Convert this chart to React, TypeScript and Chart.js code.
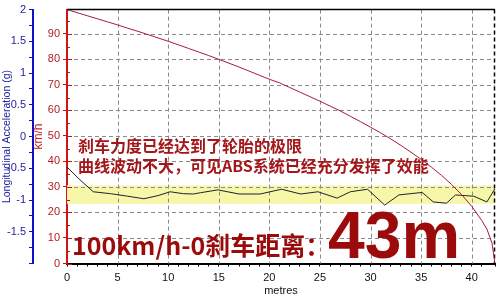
import { useEffect, useRef } from "react";
import { Chart, registerables } from "chart.js";

Chart.register(...registerables);

// ---- data ----
const speedDistance = [0, 1, 2, 3, 4, 5, 6, 7, 8, 9, 10, 11, 12, 13, 14, 15, 16, 17, 18, 19, 20, 21, 22, 23, 24, 25, 26, 27, 28, 29, 30, 31, 32, 33, 34, 35, 36, 37, 38, 39, 40, 41, 41.5, 42, 42.3];
const speedValues = [99.5, 98.3, 97.1, 95.9, 94.7, 93.5, 92.2, 91.0, 89.7, 88.4, 87.1, 85.7, 84.3, 82.9, 81.5, 80.0, 78.5, 77.0, 75.4, 73.8, 72.2, 70.8, 69.0, 67.2, 65.4, 63.6, 61.7, 59.8, 57.7, 55.6, 53.4, 51.2, 48.8, 46.3, 43.6, 40.8, 37.8, 34.6, 31.0, 27.0, 22.4, 16.8, 13.5, 8.0, 0];

const accelDistance = [0, 1.2, 2.6, 4.3, 6.0, 7.6, 9.0, 10.2, 11.5, 12.5, 13.2, 14.9, 17.0, 19.1, 21.2, 23.1, 24.8, 26.7, 28.0, 29.7, 31.4, 32.8, 35.1, 36.2, 37.5, 38.4, 40.2, 41.5, 42.3];
const accelValues = [-0.48, -0.67, -0.87, -0.9, -0.94, -0.98, -0.93, -0.87, -0.9, -0.905, -0.885, -0.84, -0.905, -0.905, -0.83, -0.905, -0.87, -0.97, -0.87, -0.83, -1.08, -0.92, -0.88, -1.03, -1.05, -0.92, -0.94, -1.03, -0.82];

const bandRange = [-1.06, -0.77];

const xTickLabels = [0, 5, 10, 15, 20, 25, 30, 35, 40];
const accelTickLabels = [2, 1.5, 1, 0.5, 0, -0.5, -1, -1.5];
const speedTickLabels = [0, 10, 20, 30, 40, 50, 60, 70, 80, 90];

const noteLines = ["刹车力度已经达到了轮胎的极限", "曲线波动不大，可见ABS系统已经充分发挥了效能"];
const bigLabel = "100km/h-0刹车距离：";
const bigValue = "43m";

const xRange = [0, 42.3];
const speedRange = [0, 99.5];
const accelRange = [-2, 2];

const decorPlugin = {
  id: "decor",
  beforeDatasetsDraw(chart: any) {
    const { ctx, chartArea: ca, scales } = chart;
    const x = scales.x;
    const yS = scales.yS;
    const yA = scales.yA;
    ctx.save();
    // yellow band
    const bTop = yA.getPixelForValue(bandRange[1]);
    const bBot = yA.getPixelForValue(bandRange[0]);
    ctx.fillStyle = "#f7f7aa";
    ctx.fillRect(ca.left, bTop, ca.right - ca.left, bBot - bTop);

    // dashed grid
    ctx.strokeStyle = "#8a8a8a";
    ctx.lineWidth = 1;
    ctx.setLineDash([4, 3]);
    ctx.beginPath();
    for (const v of xTickLabels) {
      if (v === 0) continue;
      const px = Math.round(x.getPixelForValue(v)) + 0.5;
      ctx.moveTo(px, ca.top);
      ctx.lineTo(px, ca.bottom);
    }
    for (const v of speedTickLabels) {
      if (v === 0) continue;
      const py = Math.round(yS.getPixelForValue(v)) + 0.5;
      ctx.moveTo(ca.left, py);
      ctx.lineTo(ca.right, py);
    }
    ctx.stroke();

    // right dashed border
    ctx.strokeStyle = "#000";
    ctx.lineWidth = 1.5;
    ctx.beginPath();
    ctx.moveTo(ca.right - 0.5, ca.top);
    ctx.lineTo(ca.right - 0.5, ca.bottom);
    ctx.stroke();
    ctx.setLineDash([]);

    // top border
    ctx.lineWidth = 1.5;
    ctx.beginPath();
    ctx.moveTo(ca.left, ca.top);
    ctx.lineTo(ca.right, ca.top);
    ctx.stroke();

    // inner ticks of speed axis
    ctx.strokeStyle = "#c01515";
    ctx.lineWidth = 1;
    ctx.beginPath();
    for (let i = 0; i < speedTickLabels.length; i++) {
      const v = speedTickLabels[i];
      const py = Math.round(yS.getPixelForValue(v)) + 0.5;
      ctx.moveTo(ca.left, py);
      ctx.lineTo(ca.left + 5, py);
      const pm = Math.round(yS.getPixelForValue(v + 5)) + 0.5;
      if (v + 5 < speedRange[1]) {
        ctx.moveTo(ca.left, pm);
        ctx.lineTo(ca.left + 3, pm);
      }
    }
    ctx.stroke();

    // texts
    ctx.fillStyle = "#a3161a";
    ctx.textBaseline = "middle";
    ctx.textAlign = "left";
    ctx.font = 'bold 16px "Noto Sans CJK SC"';
    ctx.fillText(noteLines[0], ca.left + 11, 146);
    ctx.fillText(noteLines[1], ca.left + 11, 166);

    ctx.fillStyle = "#9b0b0b";
    ctx.textBaseline = "alphabetic";
    ctx.font = 'bold 25px "Noto Sans CJK SC"';
    ctx.fillText(bigLabel, ca.left + 5, 254.5);
    ctx.font = 'bold 66px "Liberation Sans"';
    ctx.fillText(bigValue, 328, 257.5);
    ctx.restore();
  },
};

export default function App() {
  const ref = useRef<HTMLCanvasElement | null>(null);
  useEffect(() => {
    if (!ref.current) return;
    Chart.defaults.font.family = '"Liberation Sans", Arial, sans-serif';
    const chart = new Chart(ref.current, {
      type: "line",
      data: {
        datasets: [
          {
            label: "Speed",
            data: speedDistance.map((d, i) => ({ x: d, y: speedValues[i] })),
            yAxisID: "yS",
            borderColor: "#a81a3a",
            borderWidth: 1,
            pointRadius: 0,
            tension: 0,
          },
          {
            label: "Acceleration",
            data: accelDistance.map((d, i) => ({ x: d, y: accelValues[i] })),
            yAxisID: "yA",
            borderColor: "#22222e",
            borderWidth: 1,
            pointRadius: 0,
            tension: 0,
          },
        ],
      },
      options: {
        responsive: false,
        animation: false,
        layout: { padding: { top: 8, right: 5, left: 0, bottom: 0 } },
        plugins: { legend: { display: false }, tooltip: { enabled: false } },
        scales: {
          x: {
            type: "linear",
            position: "bottom",
            min: xRange[0],
            max: xRange[1],
            ticks: {
              stepSize: 1,
              autoSkip: false,
              maxRotation: 0,
              padding: 5,
              color: "#111",
              font: { size: 11 },
              callback: (v: any) => (xTickLabels.includes(v) ? String(v) : ""),
            },
            grid: { drawOnChartArea: false, drawTicks: true, tickLength: 3, tickColor: "#000", color: "#000" },
            border: { display: true, color: "#000", width: 2 },
            title: { display: true, text: "metres", color: "#111", font: { size: 11 }, padding: { top: 0, bottom: 2 } },
            afterFit: (s: any) => {
              s.height = 36.5;
            },
          },
          yA: {
            type: "linear",
            position: "left",
            weight: 1,
            min: accelRange[0],
            max: accelRange[1],
            ticks: {
              stepSize: 0.25,
              autoSkip: false,
              padding: 3,
              color: "#1c1c9c",
              font: { size: 11 },
              callback: (v: any) => (accelTickLabels.includes(v) ? String(v) : ""),
            },
            grid: { drawOnChartArea: false, tickLength: 4, tickColor: "#1010c0", color: "#1010c0" },
            border: { display: true, color: "#1010c8", width: 2 },
            title: {
              display: true,
              text: "Longitudinal Acceleration (g)",
              color: "#2020a0",
              font: { size: 10.5 },
              padding: { top: 1, bottom: 0 },
            },
            afterFit: (s: any) => {
              s.width = 33;
            },
          },
          yS: {
            type: "linear",
            position: "left",
            weight: 0,
            min: speedRange[0],
            max: speedRange[1],
            ticks: {
              stepSize: 10,
              padding: 3,
              color: "#b02020",
              font: { size: 11 },
              callback: (v: any) => (speedTickLabels.includes(v) ? String(v) : null),
            },
            grid: { drawOnChartArea: false, tickLength: 4, tickColor: "#c01515", color: "#c01515" },
            border: { display: true, color: "#d01515", width: 2 },
            title: {
              display: true,
              text: "km/h",
              color: "#c02020",
              font: { size: 12, lineHeight: 1 },
              padding: { top: 0, bottom: 0 },
            },
            afterFit: (s: any) => {
              s.width = 34;
            },
          },
        },
      },
      plugins: [decorPlugin],
    } as any);
    return () => chart.destroy();
  }, []);
  return (
    <div style={{ position: "absolute", left: 0, top: 0, width: 500, height: 300, background: "#fff" }}>
      <canvas ref={ref} width={500} height={300} style={{ display: "block" }} />
    </div>
  );
}
